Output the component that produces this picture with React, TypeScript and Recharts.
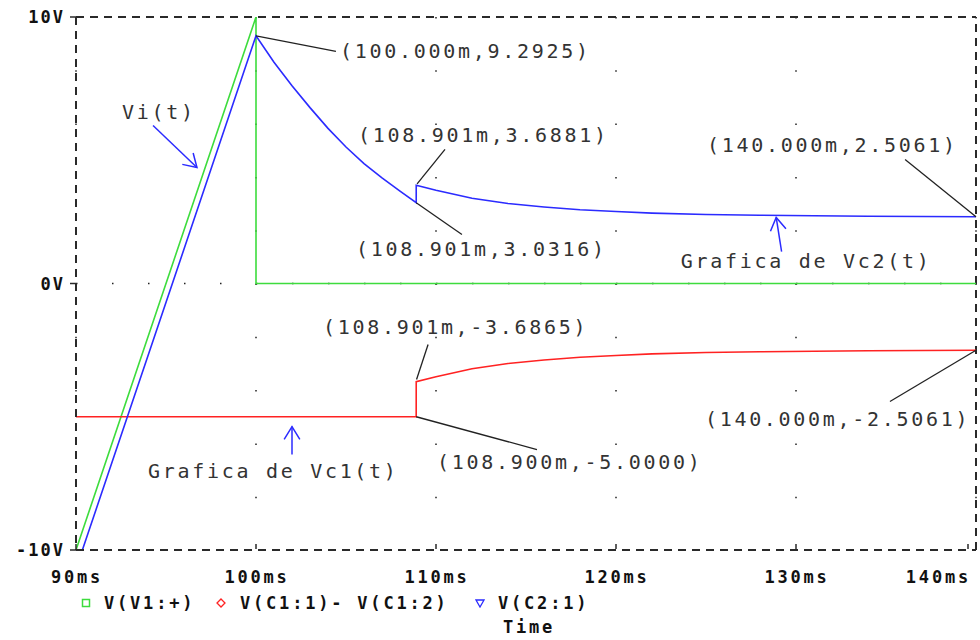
import React from "react";
import {
  LineChart,
  Line,
  XAxis,
  YAxis,
  CartesianGrid,
  ReferenceLine,
  ReferenceDot,
} from "recharts";

// V(V1:+) source ramp
const timeVi = [90, 100, 100, 140];
const valueVi = [-10, 10, 0, 0];

// V(C2:1)
const timeVc2 = [
  90, 100, 101, 102, 103, 104, 105, 106, 107, 108, 108.901, 108.901, 110, 112,
  114, 116, 118, 120, 122, 125, 128, 131, 134, 137, 140,
];
const valueVc2 = [
  -10.71, 9.2925, 8.3, 7.42, 6.6, 5.82, 5.12, 4.5, 3.96, 3.47, 3.0316, 3.6881,
  3.5, 3.2, 3.0, 2.87, 2.77, 2.7, 2.64, 2.59, 2.56, 2.54, 2.525, 2.515, 2.5061,
];

// V(C1:1)- V(C1:2)
const timeVc1 = [
  90, 108.9, 108.901, 110, 112, 114, 116, 118, 120, 122, 125, 128, 131, 134,
  137, 140,
];
const valueVc1 = [
  -5, -5, -3.6865, -3.5, -3.2, -3.0, -2.87, -2.77, -2.7, -2.64, -2.59, -2.56,
  -2.54, -2.525, -2.515, -2.5061,
];

const timeTicks = [90, 100, 110, 120, 130, 140];
const voltTicks = [-10, 0, 10];

const zip = (t: number[], v: number[]) => t.map((x, i) => ({ t: x, v: v[i] }));

const GREEN = "#3ddc3d";
const RED = "#ff2222";
const BLUE = "#2b2bff";
const AXIS = "#2a2a2a";
const MONO = "'DejaVu Sans Mono', monospace";

// cursor readouts: label text, label anchor, leader line
const readouts = [
  { text: "(100.000m,9.2925)", at: [104.67, 8.71], from: [100, 9.2925], to: [104.44, 8.71] },
  { text: "(108.901m,3.6881)", at: [105.67, 5.59], from: [110.5, 5.03], to: [108.95, 3.74] },
  { text: "(108.901m,3.0316)", at: [105.56, 1.28], from: [108.901, 3.0316], to: [111.44, 1.84] },
  { text: "(140.000m,2.5061)", at: [125.06, 5.18], from: [136.06, 4.65], to: [140, 2.5061] },
  { text: "(108.901m,-3.6865)", at: [103.72, -1.65], from: [109.56, -2.29], to: [108.92, -3.6] },
  { text: "(108.900m,-5.0000)", at: [110.06, -6.68], from: [108.9, -5], to: [115.61, -6.23] },
  { text: "(140.000m,-2.5061)", at: [124.94, -5.1], from: [140, -2.5061], to: [135.22, -4.43] },
];

// hand-drawn labels with blue arrows
const notes = [
  { text: "Vi(t)", at: [92.56, 6.45], from: [94.28, 5.93], to: [96.72, 4.35] },
  { text: "Grafica de Vc2(t)", at: [123.6, 0.83], from: [129.2, 1.2], to: [128.9, 2.48] },
  { text: "Grafica de Vc1(t)", at: [94.0, -7.05], from: [102, -6.42], to: [102, -5.37] },
];

const legendItems = [
  { name: "V(V1:+)", color: GREEN, marker: "square", x: 81, textX: 104 },
  { name: "V(C1:1)- V(C1:2)", color: RED, marker: "diamond", x: 216, textX: 240 },
  { name: "V(C2:1)", color: BLUE, marker: "triangle", x: 475, textX: 498 },
];

const boldText = {
  fontFamily: MONO,
  fontWeight: "bold" as const,
  fontSize: 17,
  fill: "#111",
};

const labelText = (text: string) => (p: any) => (
  <text
    x={p.cx}
    y={p.cy}
    dominantBaseline="central"
    fontFamily={MONO}
    fontSize={20}
    fill="#333"
    style={{ letterSpacing: "2.7px" }}
  >
    {text}
  </text>
);

const arrowShape = (p: any) => {
  const { x1, y1, x2, y2 } = p;
  const ang = Math.atan2(y2 - y1, x2 - x1) + Math.PI;
  const len = 15;
  const spread = 0.55;
  const w1 = [x2 + len * Math.cos(ang - spread), y2 + len * Math.sin(ang - spread)];
  const w2 = [x2 + len * Math.cos(ang + spread), y2 + len * Math.sin(ang + spread)];
  return (
    <g stroke={BLUE} strokeWidth={1.5} fill="none">
      <line x1={x1} y1={y1} x2={x2} y2={y2} />
      <polyline points={`${w1[0]},${w1[1]} ${x2},${y2} ${w2[0]},${w2[1]}`} />
    </g>
  );
};

const TimeTick = (p: any) => {
  const { x, y, payload } = p;
  const last = payload.value === timeTicks[timeTicks.length - 1];
  return (
    <g>
      <line x1={x} x2={x} y1={y - 22} y2={y - 27} stroke={AXIS} strokeWidth={1.5} />
      <text
        x={last ? x + 3 : x + 1}
        y={y}
        dy="0.71em"
        textAnchor={last ? "end" : "middle"}
        {...boldText}
        style={{ letterSpacing: "2.8px" }}
      >
        {`${payload.value}ms`}
      </text>
    </g>
  );
};

const Marker = ({ kind, color }: { kind: string; color: string }) => (
  <svg width={10} height={10} style={{ display: "block" }}>
    {kind === "square" && <rect x={1.5} y={1.5} width={7} height={7} fill="none" stroke={color} strokeWidth={1.5} />}
    {kind === "diamond" && <polygon points="5,1 9,5 5,9 1,5" fill="none" stroke={color} strokeWidth={1.3} />}
    {kind === "triangle" && <polygon points="1,2 9,2 5,9" fill="none" stroke={color} strokeWidth={1.3} />}
  </svg>
);

const htmlBold: React.CSSProperties = {
  position: "absolute",
  fontFamily: MONO,
  fontWeight: "bold",
  fontSize: 17,
  lineHeight: "20px",
  letterSpacing: "2.8px",
  color: "#111",
  whiteSpace: "pre",
};

export default function App() {
  const dash = "8 6";
  return (
    <div style={{ position: "relative", width: 980, height: 640, background: "#fff" }}>
      <style>{"body{margin:0;background:#fff}"}</style>
      <LineChart width={980} height={640} margin={{ top: 17, right: 4, bottom: 0, left: 0 }}>
        <CartesianGrid
          horizontal={false}
          stroke="#222"
          strokeWidth={1.5}
          strokeDasharray="1.5 51.8"
        />
        <XAxis
          dataKey="t"
          type="number"
          domain={[90, 140]}
          ticks={timeTicks}
          allowDataOverflow
          height={90}
          tickSize={0}
          tickMargin={21}
          tick={<TimeTick />}
          axisLine={{ stroke: AXIS, strokeWidth: 2, strokeDasharray: dash }}
        />
        <YAxis
          type="number"
          domain={[-10, 10]}
          ticks={voltTicks}
          allowDataOverflow
          width={76}
          tickSize={6}
          tickMargin={5}
          tickLine={{ stroke: AXIS, strokeWidth: 1.5 }}
          tickFormatter={(v) => `${v}V`}
          tick={{ ...boldText, style: { letterSpacing: "2px" } }}
          axisLine={{ stroke: AXIS, strokeWidth: 2, strokeDasharray: dash }}
        />
        <ReferenceLine y={0} stroke="#222" strokeWidth={1.5} strokeDasharray="1.5 34.5" />
        <ReferenceLine y={10} stroke={AXIS} strokeWidth={2} strokeDasharray={dash} />
        <ReferenceLine x={140} stroke={AXIS} strokeWidth={2} strokeDasharray={dash} />

        <Line data={zip(timeVi, valueVi)} dataKey="v" type="linear" dot={false} stroke={GREEN} strokeWidth={1.6} isAnimationActive={false} />
        <Line data={zip(timeVc1, valueVc1)} dataKey="v" type="linear" dot={false} stroke={RED} strokeWidth={1.6} isAnimationActive={false} />
        <Line data={zip(timeVc2, valueVc2)} dataKey="v" type="linear" dot={false} stroke={BLUE} strokeWidth={1.6} isAnimationActive={false} />

        {readouts.map((r, i) => (
          <ReferenceLine
            key={`rl-${i}`}
            segment={[{ x: r.from[0], y: r.from[1] }, { x: r.to[0], y: r.to[1] }]}
            stroke="#222"
            strokeWidth={1.3}
            ifOverflow="visible"
          />
        ))}
        {readouts.map((r, i) => (
          <ReferenceDot key={`rt-${i}`} x={r.at[0]} y={r.at[1]} r={0} ifOverflow="visible" shape={labelText(r.text)} />
        ))}
        {notes.map((n, i) => (
          <ReferenceLine
            key={`na-${i}`}
            segment={[{ x: n.from[0], y: n.from[1] }, { x: n.to[0], y: n.to[1] }]}
            ifOverflow="visible"
            shape={arrowShape}
          />
        ))}
        {notes.map((n, i) => (
          <ReferenceDot key={`nt-${i}`} x={n.at[0]} y={n.at[1]} r={0} ifOverflow="visible" shape={labelText(n.text)} />
        ))}
      </LineChart>

      {legendItems.map((item) => (
        <React.Fragment key={item.name}>
          <div style={{ position: "absolute", left: item.x, top: 598 }}>
            <Marker kind={item.marker} color={item.color} />
          </div>
          <div style={{ ...htmlBold, left: item.textX, top: 593 }}>{item.name}</div>
        </React.Fragment>
      ))}
      <div style={{ ...htmlBold, left: 503, top: 617 }}>Time</div>
    </div>
  );
}
